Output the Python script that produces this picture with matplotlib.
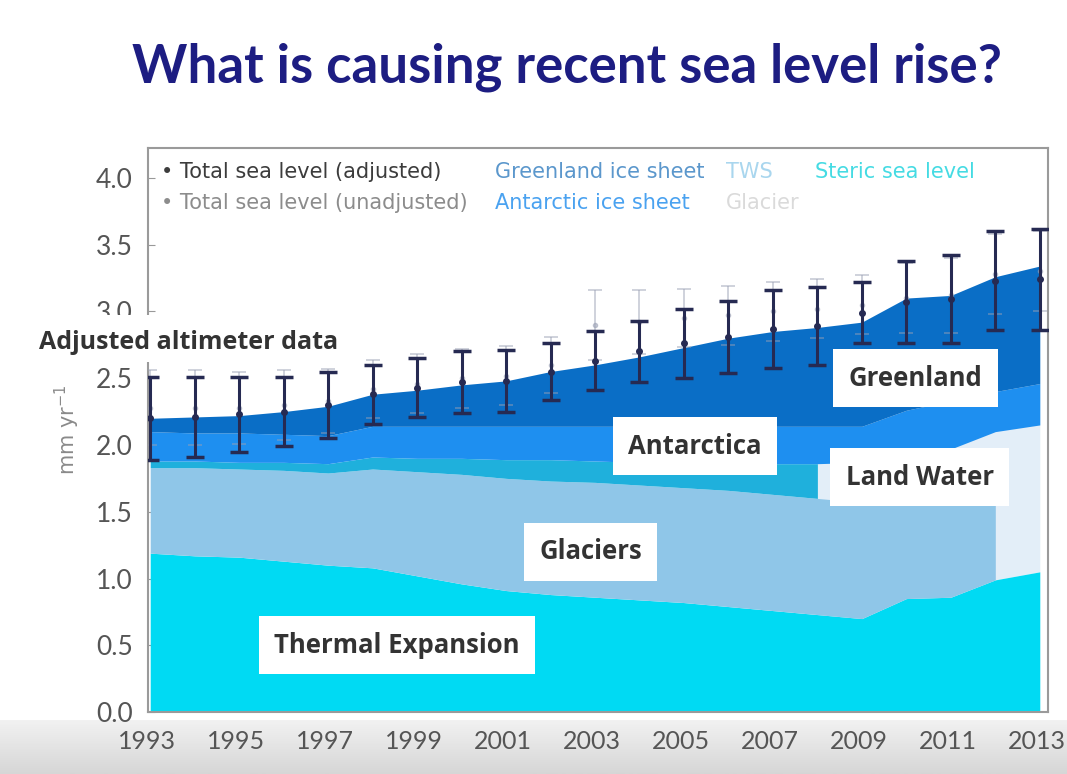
import numpy as np
import matplotlib
matplotlib.use('Agg')
import matplotlib.pyplot as plt
from matplotlib.patches import Rectangle
from matplotlib.transforms import ScaledTranslation

# Data (mm/yr, stacked boundaries)
years = np.arange(1993, 2014)
thermal_top = [1.19, 1.17, 1.16, 1.13, 1.10, 1.08, 1.02, 0.96, 0.91, 0.88, 0.86,
               0.84, 0.82, 0.79, 0.76, 0.73, 0.70, 0.85, 0.86, 0.99, 1.05]
glacier_top = [1.83, 1.83, 1.82, 1.81, 1.79, 1.82, 1.80, 1.78, 1.75, 1.73, 1.72,
               1.70, 1.68, 1.66, 1.63, 1.60, 1.57, 1.57, 1.57, 1.57, np.nan]
tws_top = [1.88, 1.88, 1.87, 1.87, 1.86, 1.91, 1.90, 1.90, 1.89, 1.89, 1.88,
           1.87, 1.86, 1.86, 1.86, 1.86, 1.87, 1.92, 1.97, 2.10, 2.15]
antarctic_top = [2.10, 2.09, 2.09, 2.08, 2.07, 2.14, 2.14, 2.14, 2.14, 2.14, 2.14,
                 2.14, 2.14, 2.14, 2.14, 2.14, 2.14, 2.26, 2.33, 2.40, 2.46]
greenland_top = [2.20, 2.21, 2.22, 2.25, 2.29, 2.38, 2.41, 2.45, 2.48, 2.55, 2.60,
                 2.66, 2.73, 2.80, 2.85, 2.88, 2.92, 3.10, 3.12, 3.26, 3.34]

# total sea level (adjusted / unadjusted) with error bars
gmsl_adj = [2.20, 2.21, 2.23, 2.25, 2.30, 2.38, 2.43, 2.47, 2.48, 2.55, 2.63,
            2.70, 2.76, 2.81, 2.87, 2.89, 2.99, 3.07, 3.09, 3.23, 3.24]
gmsl_adj_err = [0.31, 0.30, 0.28, 0.26, 0.25, 0.22, 0.22, 0.23, 0.23, 0.21, 0.22,
                0.23, 0.26, 0.27, 0.29, 0.29, 0.23, 0.31, 0.33, 0.37, 0.38]
gmsl_unadj = [2.28, 2.28, 2.28, 2.30, 2.33, 2.42, 2.46, 2.50, 2.52, 2.60, 2.90,
              2.92, 2.95, 2.97, 3.00, 3.02, 3.05, 3.10, 3.12, 3.28, 3.30]
gmsl_unadj_err = [0.28, 0.28, 0.27, 0.26, 0.24, 0.22, 0.22, 0.22, 0.22, 0.21, 0.26,
                  0.24, 0.22, 0.22, 0.22, 0.22, 0.22, 0.26, 0.28, 0.30, 0.30]

year_ticks = list(range(1993, 2014, 2))
y_ticks = [0.0, 0.5, 1.0, 1.5, 2.0, 2.5, 3.0, 3.5, 4.0]

c_thermal = '#00daf3'
c_glacier = '#8fc6e8'
c_tws = '#1fb0dc'
c_land = '#e3eef8'
c_antarctic = '#1e8ff0'
c_greenland = '#0a6ec6'
c_bar = '#262a52'

fig = plt.figure(figsize=(10.67, 7.74), dpi=100)
fig.patch.set_facecolor('white')

# grey strip at the bottom of the slide photo
band = fig.add_axes([0, 0, 1, 0.07], zorder=-5)
grad = np.linspace(0, 1, 50).reshape(-1, 1)
band.imshow(grad, aspect='auto', cmap=matplotlib.colors.LinearSegmentedColormap.from_list(
    'g', ['#d6d6d6', '#f2f2f2']), origin='lower', extent=[0, 1, 0, 1])
band.axis('off')

ax = fig.add_axes([0.1387, 0.080, 0.8433, 0.729])
yr = years.astype(float)
thermal = np.array(thermal_top)
glac = np.array(glacier_top)
tws = np.array(tws_top)
ant = np.array(antarctic_top)
grl = np.array(greenland_top)

late = yr >= 2008
early = yr <= 2008
ax.fill_between(yr, thermal, ant, where=late, color=c_land, lw=0, zorder=1)
ax.fill_between(yr, 0, thermal, color=c_thermal, lw=0, zorder=2)
ok = ~np.isnan(glac)
ax.fill_between(yr[ok], thermal[ok], glac[ok], color=c_glacier, lw=0, zorder=2)
ax.fill_between(yr[early], glac[early], tws[early], color=c_tws, lw=0, zorder=2)
ax.fill_between(yr, tws, ant, color=c_antarctic, lw=0, zorder=3)
ax.fill_between(yr, ant, grl, color=c_greenland, lw=0, zorder=3)

ax.errorbar(years, gmsl_unadj, yerr=gmsl_unadj_err, fmt='o', ms=3, color='#9aa0b4',
            ecolor='#9aa0b4', elinewidth=1.2, capsize=5, capthick=1.2, alpha=0.55, zorder=4)
ax.errorbar(years, gmsl_adj, yerr=gmsl_adj_err, fmt='o', ms=4, color=c_bar,
            ecolor=c_bar, elinewidth=2.2, capsize=6.5, capthick=2.5, zorder=5)

ax.set_xlim(1992.95, 2013.18)
ax.set_ylim(0, 4.225)
ax.set_xticks(year_ticks)
ax.set_yticks(y_ticks)
ax.set_yticklabels([f'{v:.1f}' for v in y_ticks])
ax.tick_params(axis='both', labelcolor='#555555', color='#999999',
               direction='in', length=5)
ax.tick_params(axis='x', labelsize=18, pad=13, length=0)
ax.tick_params(axis='y', labelsize=19, pad=11)
for lab in ax.get_xticklabels() + ax.get_yticklabels():
    lab.set_family(['Lato', 'DejaVu Sans'])
shift = ScaledTranslation(-0.03, 0, fig.dpi_scale_trans)
for lab in ax.get_xticklabels():
    lab.set_transform(lab.get_transform() + shift)
for s in ax.spines.values():
    s.set_color('#9a9a9a')
    s.set_linewidth(1.5)
ax.set_ylabel('mm yr$^{-1}$', fontsize=15, color='#8a8a8a', labelpad=10)

# legend text in the top of the panel
narrow = ['Liberation Sans Narrow', 'DejaVu Sans']
lg = dict(fontsize=15, family=narrow, va='center', zorder=6)
ax.text(1993.25, 4.045, '\u2022 Total sea level (adjusted)', color='#3c3c3c', **lg)
ax.text(1993.25, 3.81, '\u2022 Total sea level (unadjusted)', color='#8c8c8c', **lg)
ax.text(2000.75, 4.045, 'Greenland ice sheet', color='#5b97cc', **lg)
ax.text(2000.75, 3.81, 'Antarctic ice sheet', color='#4aa2f0', **lg)
ax.text(2005.95, 4.045, 'TWS', color='#a9d6ee', **lg)
ax.text(2005.95, 3.81, 'Glacier', color='#dadada', **lg)
ax.text(2007.95, 4.045, 'Steric sea level', color='#45dbe3', **lg)

# white label boxes
box = dict(boxstyle='square,pad=0.6', fc='white', ec='none')
lb = dict(fontsize=18.5, fontweight='bold', color='#333333',
          family=['Open Sans', 'DejaVu Sans'],
          ha='center', va='center', bbox=box, zorder=7)
ax.text(2010.2, 2.50, 'Greenland', **lb)
ax.text(2005.25, 1.99, 'Antarctica', **lb)
ax.text(2010.3, 1.76, 'Land Water', **lb)
ax.text(2002.9, 1.20, 'Glaciers', **lb)
ax.text(1998.55, 0.50, 'Thermal Expansion', **lb)

# white strip with caption over the upper left of the axis
fig.patches.append(Rectangle((0, 0.532), 0.333, 0.061, transform=fig.transFigure,
                             fc='white', ec='none', zorder=10))
fig.text(0.037, 0.558, 'Adjusted altimeter data', fontsize=18, fontweight='bold',
         color='#333333', family=['Open Sans', 'DejaVu Sans'], va='center', zorder=11)

fig.text(0.531, 0.893, 'What is causing recent sea level rise?', fontsize=38,
         fontweight='bold', color='#1d1d82', family=['Lato', 'DejaVu Sans'],
         ha='center', va='baseline')

fig.savefig('out.png', dpi=100)
